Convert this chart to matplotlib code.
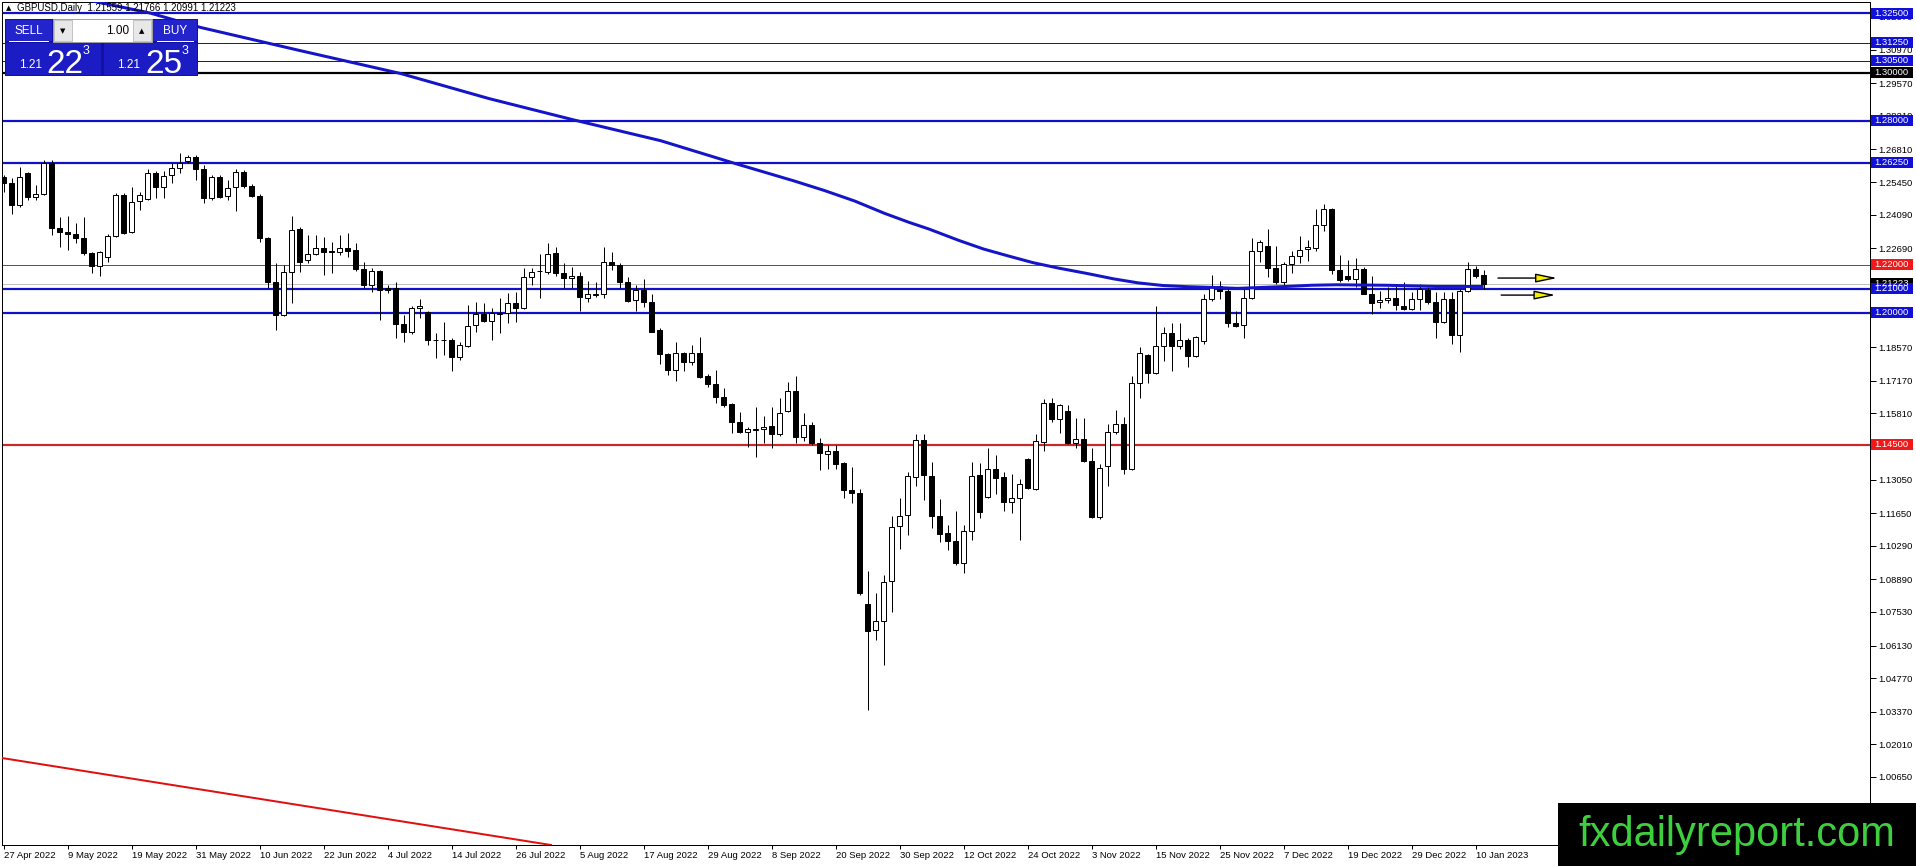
import numpy as np
import matplotlib
matplotlib.use('Agg')
import matplotlib.pyplot as plt
from matplotlib.patches import Rectangle

plt.rcParams['font.family'] = ['Liberation Sans', 'DejaVu Sans']

# GBPUSD daily candles, 27 Apr 2022 .. 11 Jan 2023
opens = [1.2568, 1.2540, 1.2450, 1.2582, 1.2485, 1.2494, 1.2624, 1.2353, 1.2336, 1.2327,
         1.2311, 1.2248, 1.2197, 1.2234, 1.2322, 1.2492, 1.2336, 1.2466, 1.2475, 1.2582,
         1.2526, 1.2575, 1.2603, 1.2631, 1.2649, 1.2600, 1.2480, 1.2568, 1.2489, 1.2526,
         1.2586, 1.2530, 1.2489, 1.2314, 1.2127, 1.1991, 1.2172, 1.2350, 1.2220, 1.2244,
         1.2272, 1.2257, 1.2255, 1.2269, 1.2262, 1.2183, 1.2116, 1.2175, 1.2102, 1.2102,
         1.1952, 1.1919, 1.2019, 1.2002, 1.1888, 1.1885, 1.1887, 1.1817, 1.1863, 1.1949,
         1.1994, 1.1966, 1.1999, 1.1998, 1.2040, 1.2022, 1.2151, 1.2173, 1.2169, 1.2248,
         1.2168, 1.2144, 1.2155, 1.2063, 1.2076, 1.2077, 1.2214, 1.2200, 1.2130, 1.2054,
         1.2095, 1.2044, 1.1929, 1.1827, 1.1762, 1.1831, 1.1794, 1.1831, 1.1738, 1.1702,
         1.1650, 1.1618, 1.1543, 1.1502, 1.1513, 1.1515, 1.1529, 1.1493, 1.1590, 1.1674,
         1.1483, 1.1533, 1.1458, 1.1411, 1.1425, 1.1372, 1.1262, 1.1248, 1.0788, 1.0678,
         1.0717, 1.0880, 1.1111, 1.1158, 1.1315, 1.1468, 1.1318, 1.1154, 1.1083, 1.1047,
         1.0956, 1.1090, 1.1322, 1.1234, 1.1351, 1.1315, 1.1211, 1.1230, 1.1389, 1.1265,
         1.1462, 1.1624, 1.1557, 1.1590, 1.1458, 1.1476, 1.1383, 1.1148, 1.1362, 1.1505,
         1.1536, 1.1348, 1.1707, 1.1824, 1.1750, 1.1861, 1.1914, 1.1861, 1.1888, 1.1818,
         1.1881, 1.2056, 1.2113, 1.2092, 1.1956, 1.1949, 1.2060, 1.2256, 1.2277, 1.2189,
         1.2127, 1.2203, 1.2237, 1.2266, 1.2270, 1.2365, 1.2431, 1.2177, 1.2152, 1.2142,
         1.2184, 1.2080, 1.2045, 1.2052, 1.2063, 1.2030, 1.2016, 1.2056, 1.2095, 1.2046,
         1.1961, 1.2056, 1.1906, 1.2092, 1.2184, 1.2156]
highs = [1.2575, 1.2561, 1.2610, 1.2589, 1.2533, 1.2637, 1.2637, 1.2401, 1.2405, 1.2373,
         1.2401, 1.2255, 1.2258, 1.2327, 1.2498, 1.2498, 1.2523, 1.2505, 1.2600, 1.2592,
         1.2592, 1.2624, 1.2665, 1.2658, 1.2658, 1.2617, 1.2575, 1.2575, 1.2554, 1.2600,
         1.2596, 1.2536, 1.2494, 1.2318, 1.2207, 1.2200, 1.2405, 1.2359, 1.2325, 1.2325,
         1.2318, 1.2294, 1.2325, 1.2332, 1.2290, 1.2214, 1.2186, 1.2179, 1.2116, 1.2127,
         1.1991, 1.2030, 1.2058, 1.2008, 1.1914, 1.1963, 1.1894, 1.1880, 1.2033, 1.2044,
         1.2040, 1.2019, 1.2061, 1.2081, 1.2088, 1.2186, 1.2186, 1.2244, 1.2290, 1.2276,
         1.2207, 1.2193, 1.2172, 1.2133, 1.2130, 1.2276, 1.2252, 1.2207, 1.2151, 1.2116,
         1.2141, 1.2077, 1.1935, 1.1831, 1.1880, 1.1838, 1.1866, 1.1901, 1.1744, 1.1762,
         1.1688, 1.1623, 1.1588, 1.1525, 1.1607, 1.1572, 1.1607, 1.1643, 1.1710, 1.1735,
         1.1582, 1.1543, 1.1479, 1.1450, 1.1448, 1.1379, 1.1358, 1.1265, 1.0923, 1.0831,
         1.0909, 1.1151, 1.1230, 1.1336, 1.1493, 1.1493, 1.1379, 1.1222, 1.1116, 1.1173,
         1.1116, 1.1379, 1.1372, 1.1436, 1.1408, 1.1336, 1.1329, 1.1308, 1.1393, 1.1493,
         1.1639, 1.1643, 1.1621, 1.1614, 1.1562, 1.1562, 1.1436, 1.1370, 1.1536, 1.1596,
         1.1567, 1.1735, 1.1857, 1.1828, 1.2030, 1.1942, 1.1956, 1.1956, 1.1895, 1.1904,
         1.2077, 1.2156, 1.2134, 1.2106, 1.2006, 1.2106, 1.2313, 1.2303, 1.2351, 1.2277,
         1.2213, 1.2256, 1.2320, 1.2303, 1.2434, 1.2455, 1.2437, 1.2241, 1.2220, 1.2227,
         1.2191, 1.2152, 1.2092, 1.2106, 1.2113, 1.2127, 1.2085, 1.2120, 1.2106, 1.2085,
         1.2085, 1.2085, 1.2099, 1.2213, 1.2194, 1.2177]
lows = [1.2505, 1.2411, 1.2443, 1.2471, 1.2471, 1.2492, 1.2325, 1.2276, 1.2262, 1.2290,
        1.2241, 1.2165, 1.2155, 1.2214, 1.2318, 1.2327, 1.2332, 1.2429, 1.2471, 1.2478,
        1.2478, 1.2540, 1.2582, 1.2624, 1.2554, 1.2457, 1.2471, 1.2478, 1.2471, 1.2425,
        1.2519, 1.2485, 1.2297, 1.2102, 1.1929, 1.1988, 1.2040, 1.2172, 1.2207, 1.2241,
        1.2158, 1.2168, 1.2241, 1.2234, 1.2175, 1.2105, 1.2088, 1.1970, 1.2081, 1.1897,
        1.1877, 1.1910, 1.1977, 1.1866, 1.1810, 1.1824, 1.1757, 1.1803, 1.1859, 1.1922,
        1.1963, 1.1887, 1.1914, 1.1956, 1.1963, 1.2016, 1.2116, 1.2061, 1.2161, 1.2155,
        1.2105, 1.2105, 1.2008, 1.2047, 1.2068, 1.2063, 1.2179, 1.2105, 1.2047, 1.2008,
        1.2026, 1.1919, 1.1785, 1.1741, 1.1716, 1.1757, 1.1783, 1.1730, 1.1692, 1.1623,
        1.1609, 1.1497, 1.1497, 1.1442, 1.1401, 1.1458, 1.1436, 1.1486, 1.1586, 1.1458,
        1.1465, 1.1450, 1.1344, 1.1351, 1.1351, 1.1230, 1.1208, 1.0823, 1.0345, 1.0638,
        1.0531, 1.0752, 1.1016, 1.1073, 1.1277, 1.1220, 1.1101, 1.1044, 1.1012, 1.0949,
        1.0916, 1.1051, 1.1144, 1.1230, 1.1244, 1.1173, 1.1165, 1.1051, 1.1265, 1.1262,
        1.1425, 1.1543, 1.1500, 1.1453, 1.1436, 1.1379, 1.1144, 1.1140, 1.1279, 1.1493,
        1.1329, 1.1344, 1.1643, 1.1707, 1.1743, 1.1800, 1.1757, 1.1849, 1.1774, 1.1814,
        1.1871, 1.2049, 1.2056, 1.1939, 1.1942, 1.1896, 1.2056, 1.2213, 1.2149, 1.2120,
        1.2106, 1.2166, 1.2209, 1.2217, 1.2256, 1.2341, 1.2163, 1.2127, 1.2134, 1.2106,
        1.2077, 1.1995, 1.2020, 1.2042, 1.2013, 1.2013, 1.2010, 1.2013, 1.2035, 1.1895,
        1.1956, 1.1871, 1.1838, 1.2085, 1.2146, 1.2099]
closes = [1.2540, 1.2450, 1.2568, 1.2485, 1.2494, 1.2624, 1.2353, 1.2336, 1.2327, 1.2311,
          1.2248, 1.2197, 1.2255, 1.2322, 1.2492, 1.2334, 1.2464, 1.2492, 1.2582, 1.2526,
          1.2572, 1.2603, 1.2624, 1.2649, 1.2600, 1.2480, 1.2568, 1.2485, 1.2522, 1.2586,
          1.2530, 1.2489, 1.2311, 1.2127, 1.1991, 1.2172, 1.2346, 1.2214, 1.2244, 1.2272,
          1.2255, 1.2254, 1.2269, 1.2258, 1.2183, 1.2116, 1.2175, 1.2095, 1.2095, 1.1952,
          1.1919, 1.2019, 1.2030, 1.1885, 1.1885, 1.1888, 1.1817, 1.1866, 1.1947, 1.1994,
          1.1966, 1.1998, 1.1996, 1.2040, 1.2022, 1.2151, 1.2172, 1.2176, 1.2244, 1.2165,
          1.2144, 1.2155, 1.2068, 1.2077, 1.2079, 1.2214, 1.2200, 1.2130, 1.2049, 1.2095,
          1.2044, 1.1922, 1.1827, 1.1762, 1.1831, 1.1794, 1.1831, 1.1734, 1.1702, 1.1650,
          1.1616, 1.1543, 1.1504, 1.1515, 1.1516, 1.1526, 1.1493, 1.1582, 1.1674, 1.1483,
          1.1533, 1.1458, 1.1415, 1.1425, 1.1368, 1.1262, 1.1248, 1.0831, 1.0674, 1.0717,
          1.0878, 1.1108, 1.1154, 1.1318, 1.1468, 1.1322, 1.1151, 1.1080, 1.1047, 1.0956,
          1.1090, 1.1319, 1.1168, 1.1351, 1.1311, 1.1211, 1.1228, 1.1287, 1.1268, 1.1465,
          1.1624, 1.1557, 1.1614, 1.1458, 1.1476, 1.1382, 1.1148, 1.1355, 1.1505, 1.1536,
          1.1351, 1.1707, 1.1831, 1.1750, 1.1861, 1.1914, 1.1861, 1.1885, 1.1818, 1.1899,
          1.2056, 1.2113, 1.2092, 1.1956, 1.1945, 1.2060, 1.2256, 1.2296, 1.2189, 1.2127,
          1.2203, 1.2237, 1.2263, 1.2274, 1.2365, 1.2431, 1.2177, 1.2137, 1.2142, 1.2184,
          1.2080, 1.2042, 1.2052, 1.2063, 1.2032, 1.2016, 1.2056, 1.2099, 1.2046, 1.1961,
          1.2056, 1.1906, 1.2092, 1.2184, 1.2152, 1.2122]

# moving average line, read at a few bars
ma_bar = [9, 18.3, 24.6, 37.1, 49.6, 60.7, 71.3, 82.1, 91.2, 98.8, 102.6, 106.4, 110.1,
          113.2, 115.7, 119.4, 122.5, 125.6, 128.7, 131.8, 135.6, 138.7, 141.8, 144.9,
          148, 151.1, 154.2, 157.3, 160.4, 163.5, 166.6, 172.8, 179.1, 185]
ma_val = [1.3315, 1.3250, 1.3190, 1.3093, 1.2998, 1.2893, 1.2804, 1.2718, 1.2625, 1.2550,
          1.2510, 1.2466, 1.2415, 1.2377, 1.2349, 1.2302, 1.2266, 1.2237, 1.2209, 1.2187,
          1.2163, 1.2142, 1.2125, 1.2114, 1.2109, 1.2106, 1.2102, 1.2106, 1.2110, 1.2115,
          1.2117, 1.2115, 1.2110, 1.2110]

# horizontal levels drawn on the chart
levels = [1.3250, 1.3125, 1.3050, 1.3000, 1.2800, 1.2625, 1.2200, 1.2100, 1.2000, 1.1450]
level_kind = ['blue', 'blue_thin', 'blue_thin', 'black', 'blue', 'blue', 'red_thin', 'blue', 'blue', 'red']
bid = 1.21223

# red trendline (two anchor points)
trend_bar = [-0.2, 68.5]
trend_val = [1.0144, 0.9781]

# arrows on the right
arrow_val = [1.2145, 1.2074]
arrow_from = [186.8, 187.2]
arrow_to = [194.2, 194.0]

ytick_vals = [1.3237, 1.3097, 1.2957, 1.2821, 1.2681, 1.2545, 1.2409, 1.2269, 1.2133,
              1.1997, 1.1857, 1.1717, 1.1581, 1.1445, 1.1305, 1.1165, 1.1029, 1.0889,
              1.0753, 1.0613, 1.0477, 1.0337, 1.0201, 1.0065, 0.9929]
xtick_labels = ['27 Apr 2022', '9 May 2022', '19 May 2022', '31 May 2022', '10 Jun 2022',
                '22 Jun 2022', '4 Jul 2022', '14 Jul 2022', '26 Jul 2022', '5 Aug 2022',
                '17 Aug 2022', '29 Aug 2022', '8 Sep 2022', '20 Sep 2022', '30 Sep 2022',
                '12 Oct 2022', '24 Oct 2022', '3 Nov 2022', '15 Nov 2022', '25 Nov 2022',
                '7 Dec 2022', '19 Dec 2022', '29 Dec 2022', '10 Jan 2023']
header = 'GBPUSD,Daily  1.21559 1.21766 1.20991 1.21223'

W, H = 1916, 866
PX = 0.72  # one pixel in points at dpi 100

fig = plt.figure(figsize=(W / 100, H / 100), dpi=100)
fig.patch.set_facecolor('white')
ax = fig.add_axes([2 / W, 21 / H, 1868 / W, 843 / H])
ax.set_xlim(-0.2, 233.3)
ax.set_ylim(0.97814, 1.32959)

styles = {
    'blue': ('#1010c8', 2.2),
    'blue_thin': ('#1010c8', 1.0),
    'black': ('black', 2.2),
    'red_thin': ('#e02020', 1.0),
    'red': ('#c82828', 2.2),
}
box_color = {'blue': '#1010d8', 'blue_thin': '#1010d8', 'black': 'black',
             'red_thin': '#f01818', 'red': '#f01818'}

for lv, kind in zip(levels, level_kind):
    c, w = styles[kind]
    ax.axhline(lv, color=c, lw=w * PX, zorder=2)
ax.axhline(bid, color='#c0c0c0', lw=1.0 * PX, zorder=1)

# candles
o = np.array(opens)
h = np.array(highs)
l = np.array(lows)
c = np.array(closes)
x = np.arange(len(o))
up = c >= o
ax.vlines(x, l, h, color='black', lw=1.0 * PX, zorder=3)
body_low = np.minimum(o, c)
body_h = np.maximum(np.abs(c - o), 0.00006)
ax.bar(x[up], body_h[up], bottom=body_low[up], width=0.62, color='white',
       edgecolor='black', linewidth=1.0 * PX, zorder=4)
ax.bar(x[~up], body_h[~up], bottom=body_low[~up], width=0.62, color='black',
       edgecolor='black', linewidth=1.0 * PX, zorder=4)

# moving average
ax.plot(ma_bar, ma_val, color='#1414c8', lw=3.0 * PX, zorder=5, solid_capstyle='butt')

# trendline
ax.axline((trend_bar[0], trend_val[0]), (trend_bar[1], trend_val[1]),
          color='#e01010', lw=2.0 * PX, zorder=5)

# arrows
for yv, x0, x1 in zip(arrow_val, arrow_from, arrow_to):
    ax.annotate('', xy=(x1, yv), xytext=(x0, yv),
                arrowprops=dict(arrowstyle='-|>,head_length=1.3,head_width=0.27',
                                fc='#f4f000', ec='black', lw=1.4 * PX,
                                shrinkA=0, shrinkB=0, mutation_scale=10),
                zorder=6)

# axes styling
for sp in ax.spines.values():
    sp.set_linewidth(1.0 * PX)
    sp.set_color('black')
ax.yaxis.tick_right()
ax.set_yticks(ytick_vals)
ax.set_yticklabels([f'{v:.5f}' for v in ytick_vals])
ax.tick_params(axis='y', length=4, width=PX, pad=2, labelsize=6.8, colors='black')
ax.set_xticks(np.arange(len(xtick_labels)) * 8)
ax.set_xticklabels(xtick_labels)
for lbl in ax.get_xticklabels():
    lbl.set_ha('left')
ax.tick_params(axis='x', length=3, width=PX, pad=1.5, labelsize=6.8, colors='black')


def rect(x0, y0, x1, y1, **kw):
    fig.add_artist(Rectangle((x0 / W, 1 - y1 / H), (x1 - x0) / W, (y1 - y0) / H,
                             transform=fig.transFigure, **kw))


def ftext(xp, yp, s, **kw):
    fig.text(xp / W, 1 - yp / H, s, **kw)


# price boxes on the right scale
def price_box(val, fc):
    yp = H - ax.transData.transform((0, val))[1]
    rect(1871, yp - 5.5, 1913, yp + 5.5, facecolor=fc, edgecolor='none', zorder=5)
    ftext(1874, yp, f'{val:.5f}', color='white', fontsize=6.8, va='center', ha='left', zorder=6)


price_box(bid, 'black')
for lv, kind in zip(levels, level_kind):
    price_box(lv, box_color[kind])

# header
ftext(6, 8, '\u25b2', fontsize=5, va='center', ha='left', family='DejaVu Sans')
ftext(17, 8, header, fontsize=7, va='center', ha='left', color='black')

# one-click trading panel
rect(5, 19, 198, 76, facecolor='#12129e', edgecolor='none', zorder=7)
rect(6, 20, 52, 41, facecolor='#2424cc', edgecolor='none', zorder=8)
rect(153, 20, 197, 41, facecolor='#2424cc', edgecolor='none', zorder=8)
rect(53, 19, 152, 42, facecolor='white', edgecolor='#a0a0a0', lw=0.7, zorder=8)
rect(54, 20, 72, 41, facecolor='#e8e8e8', edgecolor='#b0b0b0', lw=0.5, zorder=9)
rect(133, 20, 151, 41, facecolor='#e8e8e8', edgecolor='#b0b0b0', lw=0.5, zorder=9)
rect(6, 43, 101, 75, facecolor='#1c1cc4', edgecolor='none', zorder=8)
rect(104, 43, 197, 75, facecolor='#1c1cc4', edgecolor='none', zorder=8)
rect(9, 41, 49, 42, facecolor='white', edgecolor='none', zorder=9)
rect(157, 41, 194, 42, facecolor='white', edgecolor='none', zorder=9)
ftext(29, 31, 'SELL', color='white', fontsize=8.5, ha='center', va='center', zorder=10)
ftext(175, 31, 'BUY', color='white', fontsize=8.5, ha='center', va='center', zorder=10)
ftext(63, 31, '\u25bc', color='black', fontsize=5, ha='center', va='center', zorder=10, family='DejaVu Sans')
ftext(142, 31, '\u25b2', color='black', fontsize=5, ha='center', va='center', zorder=10, family='DejaVu Sans')
ftext(129, 31, '1.00', color='black', fontsize=8.5, ha='right', va='center', zorder=10)
ftext(19, 65, '1.21', color='white', fontsize=8.5, ha='left', va='center', zorder=10)
ftext(46, 73, '22', color='white', fontsize=24, ha='left', va='baseline', zorder=10)
ftext(83, 51, '3', color='white', fontsize=9, ha='left', va='center', zorder=10)
ftext(117, 65, '1.21', color='white', fontsize=8.5, ha='left', va='center', zorder=10)
ftext(145, 73, '25', color='white', fontsize=24, ha='left', va='baseline', zorder=10)
ftext(182, 51, '3', color='white', fontsize=9, ha='left', va='center', zorder=10)

# watermark logo
rect(1558, 803, 1916, 866, facecolor='black', edgecolor='none', zorder=20)
ftext(1737, 835, 'fxdailyreport.com', color='#3ecf3e', fontsize=30, ha='center',
      va='center', zorder=21)

fig.savefig('out.png', dpi=100, facecolor='white')
